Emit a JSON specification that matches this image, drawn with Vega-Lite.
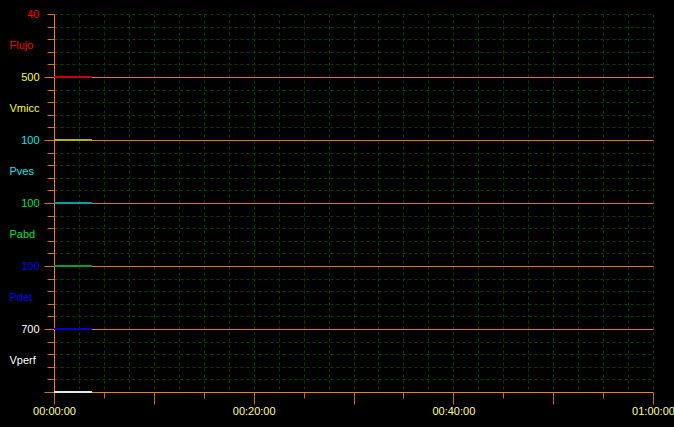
{
  "$schema": "https://vega.github.io/schema/vega-lite/v6.json",
  "width": 599,
  "height": 378,
  "autosize": {"type": "none"},
  "padding": {"left": 54, "top": 14, "right": 21, "bottom": 35},
  "background": "#000000",
  "config": {
    "view": {"stroke": null, "fill": "#000000"},
    "axis": {"labelFont": "Liberation Sans", "labelFontSize": 11, "title": null}
  },
  "data": {
    "values": [
      {"canal": "Flujo", "t": 0, "pos": 25},
      {"canal": "Flujo", "t": 3.8, "pos": 25},
      {"canal": "Vmicc", "t": 0, "pos": 20},
      {"canal": "Vmicc", "t": 3.8, "pos": 20},
      {"canal": "Pves", "t": 0, "pos": 15},
      {"canal": "Pves", "t": 3.8, "pos": 15},
      {"canal": "Pabd", "t": 0, "pos": 10},
      {"canal": "Pabd", "t": 3.8, "pos": 10},
      {"canal": "Pdet", "t": 0, "pos": 5},
      {"canal": "Pdet", "t": 3.8, "pos": 5},
      {"canal": "Vperf", "t": 0, "pos": 0},
      {"canal": "Vperf", "t": 3.8, "pos": 0}
    ]
  },
  "mark": {"type": "line", "strokeWidth": 2, "clip": false},
  "encoding": {
    "x": {
      "field": "t",
      "type": "quantitative",
      "scale": {"domain": [0, 60], "nice": false, "zero": false},
      "axis": {
        "values": [0, 2.5, 5, 7.5, 10, 12.5, 15, 17.5, 20, 22.5, 25, 27.5, 30, 32.5, 35, 37.5, 40, 42.5, 45, 47.5, 50, 52.5, 55, 57.5, 60],
        "domainColor": "#ff8000",
        "domainWidth": 1,
        "grid": true,
        "gridColor": "#004400",
        "gridDash": [3, 3],
        "gridWidth": 1,
        "tickColor": "#d06a00",
        "tickSize": {"expr": "datum.value % 10 == 0 ? 12 : (datum.value % 5 == 0 ? 6 : 0)"},
        "tickOpacity": {"expr": "datum.value % 5 == 0 ? 1 : 0"},
        "labelExpr": "datum.value % 20 == 0 ? (datum.value == 60 ? '01:00:00' : '00:' + (datum.value < 10 ? '0' : '') + datum.value + ':00') : ''",
        "labelColor": "#ffff88",
        "labelPadding": 1,
        "labelFlush": false,
        "labelOverlap": false,
        "labelBound": false,
        "labelAngle": 0
      }
    },
    "y": {
      "field": "pos",
      "type": "quantitative",
      "scale": {"domain": [0, 30], "nice": false, "zero": false},
      "axis": {
        "values": [0, 1, 2, 2.5, 3, 4, 5, 6, 7, 7.5, 8, 9, 10, 11, 12, 12.5, 13, 14, 15, 16, 17, 17.5, 18, 19, 20, 21, 22, 22.5, 23, 24, 25, 26, 27, 27.5, 28, 29, 30],
        "domainColor": "#ff8000",
        "domainWidth": 1,
        "grid": true,
        "gridColor": {"expr": "(datum.value % 5 == 0 && datum.value > 0 && datum.value < 30) ? '#e87400' : '#004400'"},
        "gridDash": {"expr": "(datum.value % 5 == 0 && datum.value > 0 && datum.value < 30) ? [] : [3, 3]"},
        "gridOpacity": {"expr": "(datum.value % 1 != 0 || datum.value == 0) ? 0 : 1"},
        "tickColor": "#e07000",
        "tickSize": {"expr": "datum.value % 1 != 0 ? 0 : ((datum.value % 5 == 0 && datum.value < 30) ? 10 : 7)"},
        "tickOpacity": {"expr": "datum.value % 1 != 0 ? 0 : 1"},
        "labelExpr": "datum.value == 30 ? '40' : datum.value == 27.5 ? 'Flujo' : datum.value == 25 ? '500' : datum.value == 22.5 ? 'Vmicc' : datum.value == 20 ? '100' : datum.value == 17.5 ? 'Pves' : datum.value == 15 ? '100' : datum.value == 12.5 ? 'Pabd' : datum.value == 10 ? '100' : datum.value == 7.5 ? 'Pdet' : datum.value == 5 ? '700' : datum.value == 2.5 ? 'Vperf' : ''",
        "labelColor": {"expr": "datum.value >= 27.5 ? '#ff0000' : datum.value >= 22.5 ? '#ffff00' : datum.value >= 17.5 ? '#00e8e8' : datum.value >= 12.5 ? '#00e040' : datum.value >= 7.5 ? '#0000ff' : '#ffffff'"},
        "labelAlign": {"expr": "datum.value % 5 == 2.5 ? 'left' : 'right'"},
        "labelPadding": {"expr": "datum.value % 5 == 2.5 ? 45 : (datum.value == 30 ? 8 : 5)"},
        "labelBaseline": "middle",
        "labelFlush": false,
        "labelOverlap": false,
        "labelBound": false
      }
    },
    "color": {
      "field": "canal",
      "type": "nominal",
      "scale": {
        "domain": ["Flujo", "Vmicc", "Pves", "Pabd", "Pdet", "Vperf"],
        "range": ["#c80000", "#b4b400", "#00a0a0", "#00a030", "#0000d0", "#e8e8e8"]
      },
      "legend": null
    }
  }
}
